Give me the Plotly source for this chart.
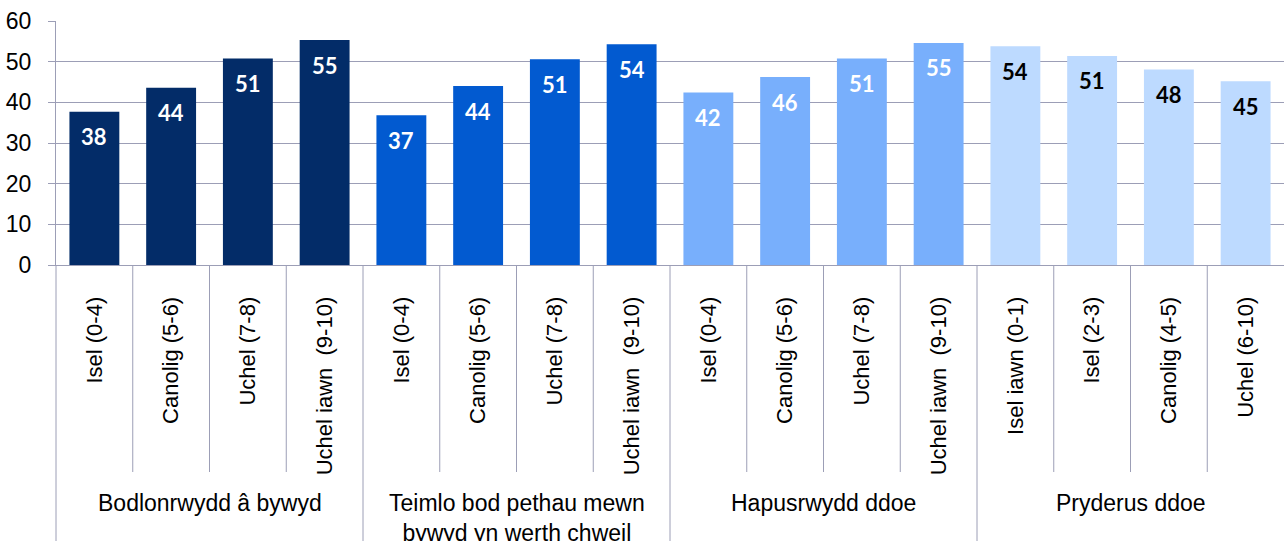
import plotly.graph_objects as go

# ---- data ----
group_names = ["Bodlonrwydd â bywyd",
               "Teimlo bod pethau mewn<br>bywyd yn werth chweil",
               "Hapusrwydd ddoe",
               "Pryderus ddoe"]
cats_g1 = ["Isel (0-4)", "Canolig (5-6)", "Uchel (7-8)", "Uchel iawn  (9-10)"]
cats_g2 = ["Isel (0-4)", "Canolig (5-6)", "Uchel (7-8)", "Uchel iawn  (9-10)"]
cats_g3 = ["Isel (0-4)", "Canolig (5-6)", "Uchel (7-8)", "Uchel iawn  (9-10)"]
cats_g4 = ["Isel iawn (0-1)", "Isel (2-3)", "Canolig (4-5)", "Uchel (6-10)"]
vals_g1 = [37.7, 43.6, 50.8, 55.3]
vals_g2 = [36.8, 44.0, 50.6, 54.3]
vals_g3 = [42.4, 46.2, 50.8, 54.6]
vals_g4 = [53.8, 51.4, 48.1, 45.2]
y_ticks = [0, 10, 20, 30, 40, 50, 60]

# ---- style ----
bar_colors = ["#032c68", "#025ad0", "#78affc", "#bddaff"]
label_colors = ["white", "white", "white", "black"]
grid_color = "#9c9eb6"
axis_font = "Liberation Sans, Arial, sans-serif"
label_font = "Lato, Open Sans, sans-serif"

cats_all = [cats_g1, cats_g2, cats_g3, cats_g4]
vals_all = [vals_g1, vals_g2, vals_g3, vals_g4]

fig = go.Figure()
ticktext = []
annotations = []
shapes = []
pos = 0
PLOT_H = 244  # px of plot area
for gi, (cats, vals) in enumerate(zip(cats_all, vals_all)):
    xs = list(range(pos, pos + len(vals)))
    fig.add_trace(go.Bar(x=xs, y=vals, width=0.65,
                         marker=dict(color=bar_colors[gi], line=dict(width=0)),
                         hoverinfo="y", showlegend=False))
    for x, v in zip(xs, vals):
        annotations.append(dict(x=x, y=v, xref="x", yref="y", text=f"{round(v)}",
                                showarrow=False, yanchor="middle", yshift=-25,
                                font=dict(family=label_font, size=22, color=label_colors[gi],
                                          weight="bold")))
    ticktext += cats
    # group label
    annotations.append(dict(x=(xs[0] + xs[-1]) / 2, y=0, xref="x", yref="paper",
                            yshift=-223, yanchor="top", text=group_names[gi], showarrow=False,
                            font=dict(family=axis_font, size=23, color="black")))
    pos += len(vals)

n = pos
# category boundary lines below axis
for b in range(1, n):
    is_group = b % 4 == 0
    shapes.append(dict(type="line", xref="x", yref="paper", x0=b - 0.5, x1=b - 0.5,
                       y0=0, y1=(-300 if is_group else -207) / PLOT_H,
                       line=dict(color=grid_color, width=1)))
shapes.append(dict(type="line", xref="paper", yref="paper", x0=0, x1=0,
                   y0=0, y1=-300 / PLOT_H, line=dict(color=grid_color, width=1)))

fig.update_layout(
    width=1284, height=541,
    margin=dict(l=56, r=0, t=21, b=276),
    paper_bgcolor="white", plot_bgcolor="white",
    barmode="overlay",
    annotations=annotations, shapes=shapes,
    xaxis=dict(range=[-0.5, n - 0.5], tickvals=list(range(n)), ticktext=ticktext,
               tickangle=-90, ticks="", showgrid=False, zeroline=False,
               showline=True, linecolor=grid_color, linewidth=1,
               ticklabelstandoff=22,
               tickfont=dict(family=axis_font, size=22, color="black")),
    yaxis=dict(range=[0, 60], tickvals=y_ticks, ticks="outside", ticklen=7,
               tickcolor=grid_color, showgrid=True, gridcolor=grid_color, gridwidth=1,
               zeroline=False, showline=True, linecolor=grid_color, linewidth=1,
               ticklabelstandoff=12,
               tickfont=dict(family=axis_font, size=23, color="black")),
)

fig.write_html("out.html", config={"displayModeBar": False},
               post_script="document.body.style.margin='0';document.body.style.overflow='hidden';")
